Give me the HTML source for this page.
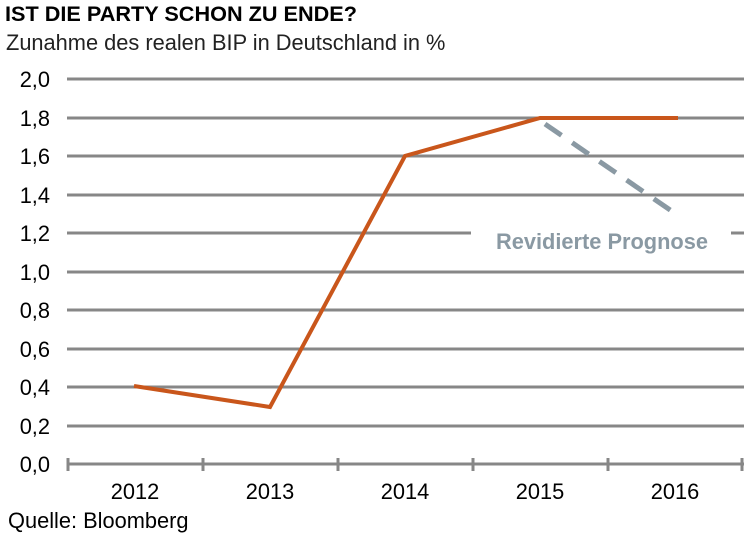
<!DOCTYPE html>
<html><head><meta charset="utf-8"><style>
body{margin:0;background:#fff;}
svg text{font-family:"Liberation Sans",Arial,sans-serif;}
</style></head><body>
<svg width="756" height="535" xmlns="http://www.w3.org/2000/svg">
<text x="5" y="21" font-size="21.5" font-weight="bold" fill="#000" textLength="352" lengthAdjust="spacingAndGlyphs">IST DIE PARTY SCHON ZU ENDE?</text>
<text x="6" y="50" font-size="21.8" fill="#222">Zunahme des realen BIP in Deutschland in %</text>
<g stroke="#878787" stroke-width="3">
<line x1="67" y1="79" x2="744" y2="79"/>
<line x1="67" y1="118" x2="744" y2="118"/>
<line x1="67" y1="156" x2="744" y2="156"/>
<line x1="67" y1="195" x2="744" y2="195"/>
<line x1="67" y1="233" x2="471" y2="233"/>
<line x1="731" y1="233" x2="744" y2="233"/>
<line x1="67" y1="272" x2="744" y2="272"/>
<line x1="67" y1="310" x2="744" y2="310"/>
<line x1="67" y1="349" x2="744" y2="349"/>
<line x1="67" y1="387" x2="744" y2="387"/>
<line x1="67" y1="426" x2="744" y2="426"/>
<line x1="67" y1="464" x2="744" y2="464"/>
<line x1="68" y1="458" x2="68" y2="471"/>
<line x1="203" y1="458" x2="203" y2="471"/>
<line x1="338" y1="458" x2="338" y2="471"/>
<line x1="473" y1="458" x2="473" y2="471"/>
<line x1="608" y1="458" x2="608" y2="471"/>
<line x1="742" y1="458" x2="742" y2="471"/>
</g>
<g font-size="21.8" fill="#000" text-anchor="end">
<text x="50" y="87">2,0</text><text x="50" y="126">1,8</text><text x="50" y="164">1,6</text>
<text x="50" y="203">1,4</text><text x="50" y="241">1,2</text><text x="50" y="280">1,0</text>
<text x="50" y="318">0,8</text><text x="50" y="357">0,6</text><text x="50" y="395">0,4</text>
<text x="50" y="434">0,2</text><text x="50" y="472">0,0</text>
</g>
<g font-size="21.8" fill="#000" text-anchor="middle">
<text x="135" y="499">2012</text><text x="270" y="499">2013</text><text x="405" y="499">2014</text>
<text x="540" y="499">2015</text><text x="675" y="499">2016</text>
</g>
<text x="8" y="528" font-size="21.8" fill="#000">Quelle: Bloomberg</text>
<line x1="545" y1="124" x2="673" y2="212" stroke="#8a99a3" stroke-width="5" stroke-dasharray="20,13"/>
<polyline points="134,386 270,407 405,156 540,118 678,118" fill="none" stroke="#c9561b" stroke-width="4" stroke-linejoin="miter"/>
<text x="602" y="249" font-size="21.8" font-weight="bold" fill="#8a99a3" text-anchor="middle">Revidierte Prognose</text>
</svg>
</body></html>
